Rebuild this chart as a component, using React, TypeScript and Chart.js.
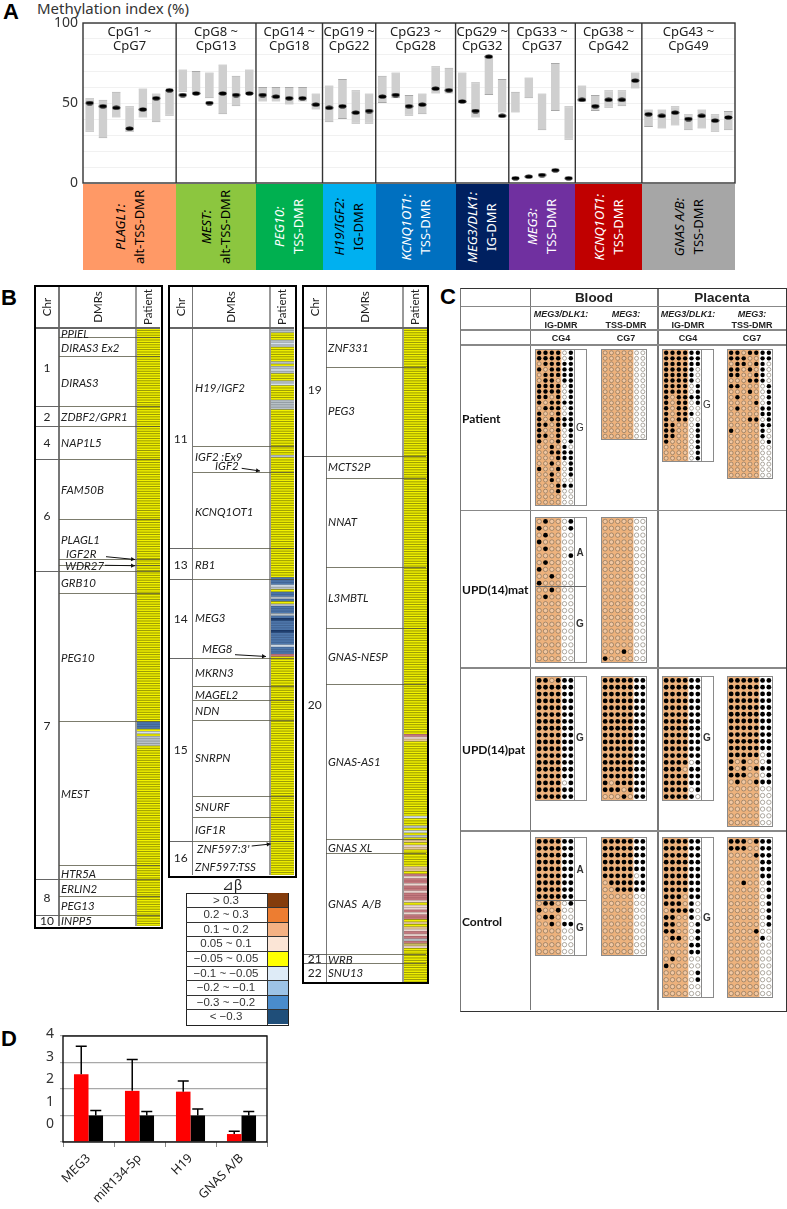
import React, { useEffect, useRef } from 'react';
import { Chart, registerables } from 'chart.js';
Chart.register(...registerables);

// ---------- Panel A data ----------
const groupSizes = [7, 6, 5, 4, 6, 4, 5, 5, 7];
const groupHeaders = [['CpG1 ~', 'CpG7'], ['CpG8 ~', 'CpG13'], ['CpG14 ~', 'CpG18'], ['CpG19 ~', 'CpG22'], ['CpG23 ~', 'CpG28'], ['CpG29 ~', 'CpG32'], ['CpG33 ~', 'CpG37'], ['CpG38 ~', 'CpG42'], ['CpG43 ~', 'CpG49']];
const groupGenes = ['PLAGL1:', 'MEST:', 'PEG10:', 'H19/IGF2:', 'KCNQ1OT1:', 'MEG3/DLK1:', 'MEG3:', 'KCNQ1OT1:', 'GNAS A/B:'];
const groupRegions = ['alt-TSS-DMR', 'alt-TSS-DMR', 'TSS-DMR', 'IG-DMR', 'TSS-DMR', 'IG-DMR', 'TSS-DMR', 'TSS-DMR', 'TSS-DMR'];
const methMean = [50, 48, 47, 34, 46, 53, 58, 55, 56, 50, 56, 55, 56, 55, 54, 53, 53, 49, 47, 48, 44, 45, 54, 55, 48, 49, 59, 58, 51, 45, 79, 42, 3, 4, 5, 8, 3, 52, 48, 52, 52, 64, 43, 42, 44, 40, 42, 39, 41];
const methHigh = [53, 52, 57, 48, 59, 56, 58, 71, 70, 69, 74, 67, 71, 60, 60, 60, 60, 56, 61, 65, 58, 56, 67, 69, 55, 56, 73, 72, 69, 63, 79, 65, 57, 66, 56, 75, 48, 61, 55, 58, 58, 69, 46, 46, 48, 43, 46, 43, 45];
const methLow = [32, 28, 41, 32, 41, 38, 42, 57, 56, 53, 43, 48, 56, 51, 51, 49, 51, 46, 38, 40, 37, 37, 50, 53, 42, 43, 56, 56, 50, 41, 55, 44, 44, 53, 33, 45, 27, 51, 45, 47, 48, 59, 35, 34, 36, 33, 34, 32, 33];

// ---------- Panel B data ----------
const table1Chr = ['1', '2', '4', '6', '7', '8', '10'];
const table1Dmrs = ['PPIEL', 'DIRAS3 Ex2', 'DIRAS3', 'ZDBF2/GPR1', 'NAP1L5', 'FAM50B', 'PLAGL1', 'IGF2R', 'WDR27', 'GRB10', 'PEG10', 'MEST', 'HTR5A', 'ERLIN2', 'PEG13', 'INPP5'];
const table2Chr = ['11', '13', '14', '15', '16'];
const table2Dmrs = ['H19/IGF2', 'IGF2 :Ex9', 'IGF2', 'KCNQ1OT1', 'RB1', 'MEG3', 'MEG8', 'MKRN3', 'MAGEL2', 'NDN', 'SNRPN', 'SNURF', 'IGF1R', "ZNF597:3'", 'ZNF597:TSS'];
const table3Chr = ['19', '20', '21', '22'];
const table3Dmrs = ['ZNF331', 'PEG3', 'MCTS2P', 'NNAT', 'L3MBTL', 'GNAS-NESP', 'GNAS-AS1', 'GNAS XL', 'GNAS  A/B', 'WRB', 'SNU13'];
// run lengths of the patient column: class, row count
const table1Runs: [string, number][] = [['y', 164], ['b', 3], ['y', 1], ['l', 1], ['y', 1], ['g', 4], ['y', 75]];
const table2Runs: [string, number][] = [['g', 2], ['y', 3], ['g', 1], ['l', 1], ['g', 1], ['y', 6], ['g', 1], ['y', 1], ['g', 1], ['l', 1], ['g', 1], ['y', 1], ['y', 2], ['g', 1], ['l', 1], ['y', 6], ['g', 4], ['y', 19], ['g', 1], ['y', 50],
  ['b', 3], ['l', 1], ['g', 1], ['y', 1], ['b', 2], ['g', 1], ['b', 1], ['y', 1], ['g', 1], ['b', 3], ['g', 1], ['b', 1], ['d', 1], ['b', 4], ['d', 1], ['b', 5], ['l', 1], ['b', 3], ['p', 1], ['y', 91]];
const table3Runs: [string, number][] = [['y', 169], ['p', 1], ['w', 1], ['t', 1], ['y', 31], ['l', 1], ['y', 3], ['g', 1], ['y', 1], ['l', 1], ['y', 1], ['g', 1], ['y', 1], ['t', 1], ['y', 1], ['w', 1], ['t', 1], ['y', 7], ['t', 2], ['y', 1],
  ['p', 1], ['w', 1], ['p', 2], ['w', 1], ['p', 2], ['w', 1], ['p', 3], ['w', 1], ['y', 1], ['w', 2], ['p', 1], ['w', 1], ['p', 2], ['y', 1], ['t', 1], ['y', 1], ['t', 1], ['w', 1], ['p', 1], ['w', 1], ['p', 1], ['g', 1], ['p', 1], ['o', 1], ['w', 1], ['y', 14]];
const legendLabels = ['> 0.3', '0.2 ~ 0.3', '0.1 ~ 0.2', '0.05 ~ 0.1', '−0.05 ~ 0.05', '−0.1 ~ −0.05', '−0.2 ~ −0.1', '−0.3 ~ −0.2', '< −0.3'];
const legendColors = ['#843C0C', '#ED7D31', '#F4B183', '#FBE5D6', '#FFFF00', '#DEEBF7', '#9DC3E6', '#4A8CCC', '#1F4E79'];

// ---------- Panel C data: 1 = methylated, 0 = unmethylated ----------
const patientBloodIG = ['111101', '111101', '011111', '101111', '011111', '011011', '111101', '111101', '110101', '101111', '011101', '100101', '101111', '110111', '100101', '110101', '100101', '001010', '001111', '000111', '001001', '100101', '001001', '001000', '000111', '000100', '000000', '000000'];
const patientBloodTSS = ['0000000', '0000000', '0000000', '0000000', '0000000', '0000000', '0000000', '0000000', '0000000', '0000000', '0000000', '0000000', '0000000', '0000000', '0000000', '0000000'];
const patientPlacentaIG = ['111111', '111111', '111111', '111110', '111110', '111110', '111101', '111101', '101111', '101101', '101100', '101110', '101100', '110001', '110001', '110001', '100001', '000001', '000001', '000001'];
const patientPlacentaTSS = ['1101111', '1110011', '0110110', '1101010', '1100110', '0001110', '1100001', '0001001', '0100001', '0000101', '0100011', '0000011', '0001101', '0000011', '1000010', '0000010', '0000001', '0000000', '0000000', '0000000', '0000000', '0000000', '0000000'];
const matBloodIG = ['010001', '100001', '010000', '100000', '010000', '000001', '010000', '100000', '001000', '100000', '001000', '010000', '000000', '000000', '000000', '000000', '000000', '000000', '000000', '000000', '000000'];
const matBloodTSS = ['0000000', '0000000', '0000000', '0000000', '0000000', '0000000', '0000000', '0000000', '0000000', '0000000', '0000000', '0000000', '0000000', '0000000', '0000000', '0000000', '0000000', '0000000', '0000000', '0001000', '1000000'];
const patBloodIG = ['110111', '111111', '111111', '111111', '111111', '111111', '111111', '111111', '111111', '111111', '111111', '111111', '111111', '111111', '111111', '111101', '111111', '111111'];
const patBloodTSS = ['1111111', '1111111', '1111111', '1111111', '1111111', '1111111', '1111111', '1111111', '1111111', '1111111', '1111111', '1111111', '1111111', '1111111', '1111111', '1011111', '1110111', '0001011'];
const patPlacentaIG = ['111111', '111111', '111111', '111111', '111111', '111111', '111111', '111111', '111111', '111111', '111111', '111111', '111101', '111011', '111111', '111111', '111101', '111110'];
const patPlacentaTSS = ['1111111', '1111111', '1111111', '1111111', '1111111', '1111111', '1111111', '1111111', '1111111', '1111111', '1111111', '1111101', '1010001', '1010111', '1110001', '0100111', '0000000', '0000000', '0000000', '0000000', '0000000', '0000000'];
const ctrlBloodIG = ['111111', '111111', '111111', '111111', '111111', '111111', '111111', '111111', '111111', '011001', '100100', '011000', '001011', '000000', '000000', '000000', '000000'];
const ctrlBloodTSS = ['1111111', '1111111', '1111111', '1111111', '1111111', '1111101', '0111111', '0011111', '0000000', '0000000', '0000000', '0000000', '0000000', '0000000', '0000000', '0000000', '0000000'];
const ctrlPlacentaIG = ['111111', '111111', '111111', '111111', '111111', '111111', '111111', '111111', '111011', '111010', '011110', '110010', '110001', '110001', '011001', '000011', '000011', '010000', '100000', '000001', '000001', '000000', '000000'];
const ctrlPlacentaTSS = ['1110111', '1110011', '0000111', '0000011', '0000011', '0000011', '0010001', '0000001', '0000001', '0000001', '0000001', '0000001', '0000001', '0000100', '0000010', '0000000', '0000000', '0000000', '0000000', '0000000', '0000000', '0000000', '0000000'];

// ---------- Panel D data ----------
const exprLabels = ['MEG3', 'miR134-5p', 'H19', 'GNAS A/B'];
const exprPatient = [2.56, 1.93, 1.9, 0.3];
const exprPatientErrTop = [3.61, 3.11, 2.3, 0.41];
const exprControl = [1, 1, 1, 1];
const exprControlErrTop = [1.19, 1.15, 1.25, 1.15];
const exprTickTexts = ['4', '3', '2', '1', '0'];

// ---------- Styling ----------
const FA = "'Noto Sans', sans-serif";
const FT = "Lato, sans-serif";
const FC = "'Liberation Sans', Arial, sans-serif";
const geneColors = ['#FF9966', '#8CC63F', '#00B050', '#00B0F0', '#0070C0', '#002060', '#7030A0', '#C00000', '#A6A6A6'];
const geneText = ['#000', '#000', '#fff', '#000', '#fff', '#fff', '#fff', '#fff', '#000'];
const stripTop: Record<string, string> = { y: '#F2F200', g: '#B9C2C8', l: '#D5E0EC', b: '#4F78AC', d: '#1F3F70', p: '#C4797E', w: '#EBD6D0', t: '#E4C79C', o: '#C8BA60' };
const stripUnder: Record<string, string> = { y: '#8E8E00', g: '#8E979C', l: '#9FA9B0', b: '#3F6090', d: '#1A3560', p: '#A86268', w: '#B8A5A0', t: '#B8A070', o: '#A09440' };

const expand = (runs: [string, number][]) => runs.flatMap(([c, n]) => Array.from({ length: n }, () => c));

function ChartCanvas({ x, y, w, h, make }: any) {
  const ref = useRef<HTMLCanvasElement>(null);
  useEffect(() => {
    const c = new Chart(ref.current as any, make());
    return () => c.destroy();
  }, []);
  return <canvas ref={ref} width={w} height={h} style={{ position: 'absolute', left: x, top: y, width: w, height: h, display: 'block' }} />;
}

const T = ({ x, y, s, size = 12, font = FT, bold, italic, color = '#222', anchor = 'l', rot = 0 }: any) => {
  const tx = anchor === 'c' ? '-50%' : anchor === 'r' ? '-100%' : '0';
  return <div style={{ position: 'absolute', left: x, top: y, whiteSpace: 'pre', fontFamily: font, fontSize: size, fontWeight: bold ? 700 : 400, fontStyle: italic ? 'italic' : 'normal', color, lineHeight: 1, transform: `translate(${tx},-50%) rotate(${rot}deg)` }}>{s}</div>;
};
const HL = ({ x0, x1, y, c = '#777', t = 1.2 }: any) => <div style={{ position: 'absolute', left: x0, top: y - t / 2, width: x1 - x0, height: t, background: c }} />;
const VL = ({ x, y0, y1, c = '#777', t = 1.2 }: any) => <div style={{ position: 'absolute', left: x - t / 2, top: y0, width: t, height: y1 - y0, background: c }} />;

// ---------- Chart configs ----------
function makeDot() {
  const c = document.createElement('canvas');
  c.width = 9; c.height = 5;
  const g = c.getContext('2d')!;
  g.fillStyle = '#000';
  g.beginPath(); g.ellipse(4.5, 2.5, 3.9, 2.1, 0, 0, Math.PI * 2); g.fill();
  return c;
}
function panelA() {
  const labels = methMean.map((_, i) => `CpG${i + 1}`);
  return {
    type: 'bar',
    data: {
      labels,
      datasets: [
        { type: 'line', data: methMean, showLine: false, pointStyle: makeDot(), order: 1 },
        { type: 'bar', data: methLow.map((l, i) => [l, methHigh[i]]), backgroundColor: '#CFCFCF', borderColor: '#A8A8A8', borderWidth: { top: 1, bottom: 1, left: 0, right: 0 }, borderSkipped: false, barPercentage: 0.66, categoryPercentage: 1, order: 2 },
      ],
    },
    options: {
      responsive: false, animation: false, devicePixelRatio: 1,
      layout: { autoPadding: false, padding: { top: 13, bottom: 7, right: 5, left: 0 } },
      plugins: { legend: { display: false }, tooltip: { enabled: false } },
      scales: {
        x: { display: false },
        y: {
          min: 0, max: 100, afterFit: (s: any) => { s.width = 33; s.paddingTop = 0; s.paddingBottom = 0; },
          grid: { color: '#F1F1F1', drawTicks: false }, border: { display: false },
          ticks: { stepSize: 10, autoSkip: false, padding: 5, color: '#333', font: { family: 'Noto Sans', size: 14 }, callback: (v: number) => (v % 50 === 0 ? v : '') },
        },
      },
    },
    plugins: [{
      id: 'sections',
      afterDraw(ch: any) {
        const { ctx, chartArea: a, scales: { x } } = ch;
        ctx.save(); ctx.strokeStyle = '#333'; ctx.lineWidth = 1.4;
        let cum = 0;
        groupSizes.slice(0, -1).forEach(n => {
          cum += n;
          const px = x.getPixelForValue(cum - 0.5);
          ctx.beginPath(); ctx.moveTo(px, a.top); ctx.lineTo(px, a.bottom); ctx.stroke();
        });
        ctx.strokeRect(a.left, a.top, a.right - a.left, a.bottom - a.top);
        ctx.restore();
      },
    }],
  };
}
function stripChart(runs: [string, number][]) {
  const rows = expand(runs);
  return () => ({
    type: 'bar',
    data: {
      labels: rows.map((_, i) => i),
      datasets: [
        { data: rows.map(() => 1), backgroundColor: rows.map(c => stripUnder[c]), barPercentage: 1, categoryPercentage: 1, grouped: false, order: 2 },
        { data: rows.map(() => 1), backgroundColor: rows.map(c => stripTop[c]), barPercentage: 0.62, categoryPercentage: 1, grouped: false, order: 1 },
      ],
    },
    options: {
      indexAxis: 'y', responsive: false, animation: false, devicePixelRatio: 1,
      plugins: { legend: { display: false }, tooltip: { enabled: false } },
      scales: { x: { display: false, min: 0, max: 1 }, y: { display: false } },
    },
  });
}
function dotChart(rows: string[], tanCols: number, radius: number) {
  return () => {
    const filled: any[] = []; const open: any[] = [];
    rows.forEach((r, y) => [...r].forEach((v, x) => (v === '1' ? filled : open).push({ x, y })));
    return {
      type: 'scatter',
      data: {
        datasets: [
          { data: open, pointRadius: radius, pointBackgroundColor: 'rgba(255,255,255,0.28)', pointBorderColor: 'rgba(95,85,70,0.62)', pointBorderWidth: 0.8 },
          { data: filled, pointRadius: radius + 0.2, pointBackgroundColor: '#000', pointBorderColor: '#000', pointBorderWidth: 0 },
        ],
      },
      options: {
        responsive: false, animation: false, devicePixelRatio: 1,
        layout: { autoPadding: false },
        plugins: { legend: { display: false }, tooltip: { enabled: false } },
        scales: {
          x: { display: false, type: 'linear', min: -0.5, max: rows[0].length - 0.5 },
          y: { display: false, type: 'linear', min: -0.5, max: rows.length - 0.5, reverse: true },
        },
      },
      plugins: [{
        id: 'tan',
        beforeDatasetsDraw(ch: any) {
          const { ctx, chartArea: a, scales: { x } } = ch;
          ctx.save(); ctx.fillStyle = '#EDB27D';
          ctx.fillRect(a.left, a.top, x.getPixelForValue(tanCols - 0.5) - a.left, a.bottom - a.top);
          ctx.restore();
        },
      }],
    };
  };
}
function panelD() {
  return {
    type: 'bar',
    data: {
      labels: exprLabels,
      datasets: [
        { data: exprPatient, backgroundColor: '#FF0000', barPercentage: 1, categoryPercentage: 0.57 },
        { data: exprControl, backgroundColor: '#000000', barPercentage: 1, categoryPercentage: 0.57 },
      ],
    },
    options: {
      responsive: false, animation: false, devicePixelRatio: 1,
      layout: { padding: { top: 11, right: 5 } },
      plugins: { legend: { display: false }, tooltip: { enabled: false } },
      scales: {
        x: {
          afterFit: (s: any) => { s.height = 67; },
          grid: { drawOnChartArea: false, tickLength: 5, color: '#888' }, border: { display: false },
          ticks: { minRotation: 45, maxRotation: 45, autoSkip: false, padding: 4, color: '#222', font: { family: 'Noto Sans', size: 12.5 } },
        },
        y: {
          min: 0, max: 4, afterFit: (s: any) => { s.width = 23; },
          grid: { color: '#A8A8A8', lineWidth: 1.2, tickLength: 3 }, border: { display: false },
          ticks: { stepSize: 1, display: false },
        },
      },
    },
    plugins: [{
      id: 'errs',
      afterDatasetsDraw(ch: any) {
        const { ctx, chartArea: a, scales: { y } } = ch;
        ctx.save(); ctx.strokeStyle = '#000'; ctx.lineWidth = 1.5;
        [exprPatientErrTop, exprControlErrTop].forEach((err, di) => {
          ch.getDatasetMeta(di).data.forEach((el: any, i: number) => {
            const py = y.getPixelForValue(err[i]);
            ctx.beginPath();
            ctx.moveTo(el.x, el.y); ctx.lineTo(el.x, py);
            ctx.moveTo(el.x - 5.5, py); ctx.lineTo(el.x + 5.5, py);
            ctx.stroke();
          });
        });
        ctx.strokeStyle = '#111'; ctx.lineWidth = 1.4;
        ctx.strokeRect(a.left, a.top, a.right - a.left, a.bottom - a.top);
        ctx.restore();
      },
    }],
  };
}

// ---------- Layout ----------
const cellW = 652 / 49;
const groupEdges = groupSizes.reduce((acc: number[], n) => [...acc, acc[acc.length - 1] + n], [0]).map(c => 83 + c * cellW);

const tables = [
  {
    left: 35, colA: 59, colB: 136, right: 160, bottom: 926, runs: table1Runs, textX: 61,
    chr: table1Chr, chrY: [368, 417, 443, 516, 726, 898, 921], chrEdges: [406.7, 426, 459, 571.7, 879, 915.7],
    dmrs: table1Dmrs, dmrY: [333.5, 348, 383, 417, 443, 490, 540, 554, 566, 583, 658, 794, 873.5, 889, 906, 921],
    dmrX: { IGF2R: 66, WDR27: 65 } as any,
    edges: [337, 356.7, 406.7, 426, 459, 519, 559, 565, 571.7, 593, 721.7, 865.7, 879, 896, 915.7],
  },
  {
    left: 169, colA: 192.5, colB: 270, right: 294, bottom: 875, runs: table2Runs, textX: 195,
    chr: table2Chr, chrY: [439, 565, 619, 750, 858], chrEdges: [548.7, 579.7, 658.3, 841],
    dmrs: table2Dmrs, dmrY: [387.7, 456.5, 466, 511.5, 565, 618, 649, 673, 695, 711, 758, 807, 829.7, 848.7, 867],
    dmrX: { IGF2: 215, MEG8: 202, "ZNF597:3'": 197 } as any,
    edges: [446.7, 472.3, 548.7, 579.7, 658.3, 686.7, 700.7, 720, 796, 817, 841],
  },
  {
    left: 303, colA: 326.3, colB: 403, right: 426.5, bottom: 981.5, runs: table3Runs, textX: 328,
    chr: table3Chr, chrY: [390, 705, 959, 973], chrEdges: [456, 954, 963.7],
    dmrs: table3Dmrs, dmrY: [348, 411, 467, 522, 598, 657, 762, 848, 904, 960, 973],
    dmrX: {} as any,
    edges: [367, 456, 478, 567, 628.3, 684, 839.3, 853.3, 954, 963.7],
  },
];
const arrows = [[106, 556.7, 135, 559.5], [105, 565.3, 135, 565.7], [241.7, 468.3, 260, 471], [235, 654.7, 266, 656.5], [251.7, 846, 270.7, 844]];

const IG_W = 38, TSS_W = 44, SIDE = 12;
const blocks: any[] = [
  { rows: patientBloodIG, x: 536, y: 350, h: 155, tan: 4, r: 2.0, labels: [['G', 427.5, false]] },
  { rows: patientBloodTSS, x: 602, y: 350, h: 89, tan: 5, r: 2.0 },
  { rows: patientPlacentaIG, x: 663, y: 350, h: 111, tan: 4, r: 2.0, labels: [['G', 405, false]] },
  { rows: patientPlacentaTSS, x: 728, y: 350, h: 128, tan: 5, r: 2.0 },
  { rows: matBloodIG, x: 536, y: 518, h: 144, tan: 4, r: 2.2, labels: [['A', 552.5, true], ['G', 624, true]], split: 586 },
  { rows: matBloodTSS, x: 602, y: 518, h: 144, tan: 5, r: 2.2 },
  { rows: patBloodIG, x: 536, y: 677, h: 123, tan: 4, r: 2.2, labels: [['G', 738, true]] },
  { rows: patBloodTSS, x: 602, y: 677, h: 123, tan: 5, r: 2.2 },
  { rows: patPlacentaIG, x: 663, y: 677, h: 123, tan: 4, r: 2.2, labels: [['G', 738, true]] },
  { rows: patPlacentaTSS, x: 728, y: 677, h: 149, tan: 5, r: 2.2 },
  { rows: ctrlBloodIG, x: 536, y: 838, h: 117, tan: 4, r: 2.2, labels: [['A', 870, true], ['G', 928, true]], split: 900.7 },
  { rows: ctrlBloodTSS, x: 602, y: 838, h: 117, tan: 5, r: 2.2 },
  { rows: ctrlPlacentaIG, x: 663, y: 838, h: 159, tan: 4, r: 2.2, labels: [['G', 918, true]] },
  { rows: ctrlPlacentaTSS, x: 728, y: 838, h: 159, tan: 5, r: 2.2 },
];

export default function App() {
  return (
    <div style={{ position: 'absolute', left: 0, top: 0, width: 787, height: 1209, background: '#fff', overflow: 'hidden' }}>
      {/* Panel letters */}
      <T x={3} y={12} s="A" size={22} font={FC} bold color="#000" />
      <T x={1} y={298} s="B" size={22} font={FC} bold color="#000" />
      <T x={440} y={297} s="C" size={22} font={FC} bold color="#000" />
      <T x={1} y={1039} s="D" size={22} font={FC} bold color="#000" />

      {/* Panel A */}
      <T x={37} y={8} s="Methylation index (%)" size={15} font={FA} color="#333" />
      <ChartCanvas x={50} y={10} w={690} h={180} make={panelA} />
      {groupHeaders.map((lines, i) => (
        <div key={i} style={{ position: 'absolute', left: groupEdges[i], width: groupEdges[i + 1] - groupEdges[i], top: 24, textAlign: 'center', fontFamily: FA, fontSize: 13, lineHeight: '14px', color: '#222', whiteSpace: 'nowrap', display: 'flex', flexDirection: 'column', alignItems: 'center' }}>
          {lines.map((l, j) => <span key={j}>{l}</span>)}
        </div>
      ))}
      {geneColors.map((c, i) => (
        <div key={i} style={{ position: 'absolute', left: groupEdges[i], width: groupEdges[i + 1] - groupEdges[i] + 0.5, top: 184, height: 86, background: c, display: 'flex', alignItems: 'center', justifyContent: 'center', color: geneText[i] }}>
          <div style={{ writingMode: 'vertical-rl', transform: 'rotate(180deg)', textAlign: 'center', fontFamily: FA, fontSize: 13, lineHeight: '19px', whiteSpace: 'nowrap' }}>
            <div style={{ fontStyle: 'italic' }}>{groupGenes[i]}</div>
            <div>{groupRegions[i]}</div>
          </div>
        </div>
      ))}

      {/* Panel B tables */}
      {tables.map((t, ti) => {
        const top = 286, head = 328;
        return (
          <React.Fragment key={ti}>
            <ChartCanvas x={t.colB} y={head} w={Math.round(t.right - t.colB)} h={Math.round(t.bottom - head)} make={stripChart(t.runs)} />
            <VL x={t.colA} y0={top} y1={t.bottom} />
            <VL x={t.colB} y0={top} y1={t.bottom} c="#999" />
            <HL x0={t.left} x1={t.right} y={head} c="#666" />
            {t.edges.map((y, i) => <HL key={i} x0={t.colA} x1={t.right} y={y} c="rgba(80,80,60,0.75)" t={1} />)}
            {t.chrEdges.map((y, i) => <HL key={i} x0={t.left} x1={t.colA} y={y} c="#666" t={1} />)}
            <T x={(t.left + t.colA) / 2} y={307} s="Chr" size={11.5} anchor="c" rot={-90} />
            <T x={(t.colA + t.colB) / 2} y={307} s="DMRs" size={11.5} anchor="c" rot={-90} />
            <T x={(t.colB + t.right) / 2} y={307} s="Patient" size={11.5} anchor="c" rot={-90} />
            {t.chr.map((s, i) => <T key={i} x={(t.left + t.colA) / 2} y={t.chrY[i]} s={s} size={12} anchor="c" />)}
            {t.dmrs.map((s, i) => <T key={i} x={t.dmrX[s] ?? t.textX} y={t.dmrY[i]} s={s} size={11.5} italic />)}
            <div style={{ position: 'absolute', left: t.left - 1.5, top: top - 1.5, width: t.right - t.left, height: t.bottom - top, border: '2.5px solid #000', boxSizing: 'content-box' }} />
          </React.Fragment>
        );
      })}
      <svg width={787} height={1209} style={{ position: 'absolute', left: 0, top: 0, pointerEvents: 'none' }}>
        {arrows.map(([a, b, c, d], i) => {
          const ang = Math.atan2(d - b, c - a);
          const p = (r: number, da: number) => `${c - r * Math.cos(ang + da)},${d - r * Math.sin(ang + da)}`;
          return <g key={i}><line x1={a} y1={b} x2={c} y2={d} stroke="#111" strokeWidth={1} /><polygon points={`${c},${d} ${p(4.5, 0.5)} ${p(4.5, -0.5)}`} fill="#111" /></g>;
        })}
      </svg>

      {/* Legend */}
      <T x={232} y={885} s="⊿β" size={14} font={FC} anchor="c" />
      <div style={{ position: 'absolute', left: 186, top: 893, width: 101, height: 131, border: '1.5px solid #222', boxSizing: 'content-box' }} />
      {legendLabels.map((s, i) => {
        const y = 893 + (i * 131.5) / 9;
        return (
          <React.Fragment key={i}>
            <div style={{ position: 'absolute', left: 268, top: y, width: 20, height: 14.6, background: legendColors[i] }} />
            {i > 0 && <HL x0={186} x1={288} y={y} c="#333" t={1} />}
            <T x={226} y={y + 7.5} s={s} size={11.5} font={FC} anchor="c" color="#333" />
          </React.Fragment>
        );
      })}
      <VL x={267.5} y0={893} y1={1025} c="#333" t={1} />

      {/* Panel C */}
      <VL x={530.5} y0={288} y1={1010} />
      <VL x={658} y0={288} y1={1010} />
      {[306.7, 330, 345, 510.5, 668, 831].map((y, i) => <HL key={i} x0={461} x1={786} y={y} c="#888" />)}
      <div style={{ position: 'absolute', left: 460, top: 288, width: 325, height: 722, borderTop: '1.8px solid #333', borderRight: '1.8px solid #333', borderBottom: '1.8px solid #333', borderLeft: '1.2px solid #777', boxSizing: 'content-box' }} />
      <T x={594} y={298} s="Blood" size={13.5} font={FC} bold anchor="c" color="#222" />
      <T x={722} y={298} s="Placenta" size={13.5} font={FC} bold anchor="c" color="#222" />
      {[561, 626, 688, 752].map((x, i) => (
        <React.Fragment key={i}>
          <T x={x} y={314} s={i % 2 ? 'MEG3:' : 'MEG3/DLK1:'} size={9} font={FC} bold italic anchor="c" />
          <T x={x} y={325} s={i % 2 ? 'TSS-DMR' : 'IG-DMR'} size={9} font={FC} bold anchor="c" />
          <T x={x} y={338} s={i % 2 ? 'CG7' : 'CG4'} size={9} font={FC} bold anchor="c" />
        </React.Fragment>
      ))}
      <T x={462} y={419} s="Patient" size={12} bold color="#111" />
      <T x={462} y={590} s="UPD(14)mat" size={12} bold color="#111" />
      <T x={462} y={750} s="UPD(14)pat" size={12} bold color="#111" />
      <T x={462} y={922} s="Control" size={12} bold color="#111" />
      {blocks.map((b, i) => {
        const isIG = b.rows[0].length === 6;
        const w = isIG ? IG_W : TSS_W;
        return (
          <React.Fragment key={i}>
            <ChartCanvas x={b.x} y={b.y} w={w} h={b.h} make={dotChart(b.rows, b.tan, b.r)} />
            <div style={{ position: 'absolute', left: b.x - 1.5, top: b.y - 1.5, width: w + (isIG ? SIDE : 0), height: b.h, border: '1.5px solid #8a8a8a', boxSizing: 'content-box' }} />
            {isIG && <VL x={b.x + w} y0={b.y} y1={b.y + b.h} c="#8a8a8a" t={1} />}
            {b.split && <HL x0={b.x} x1={b.x + w + SIDE} y={b.split} c="#666" t={1} />}
            {(b.labels || []).map(([s, y, bold]: any, j: number) => <T key={j} x={b.x + w + SIDE / 2} y={y} s={s} size={10} font={FC} bold={bold} anchor="c" color="#333" />)}
          </React.Fragment>
        );
      })}

      {/* Panel D */}
      <ChartCanvas x={40} y={1025} w={232} h={184} make={panelD} />
      {exprTickTexts.map((s, i) => <T key={i} x={50} y={[1033, 1056, 1078, 1101, 1123][i]} s={s} size={14} font={FA} anchor="c" color="#333" />)}
    </div>
  );
}
